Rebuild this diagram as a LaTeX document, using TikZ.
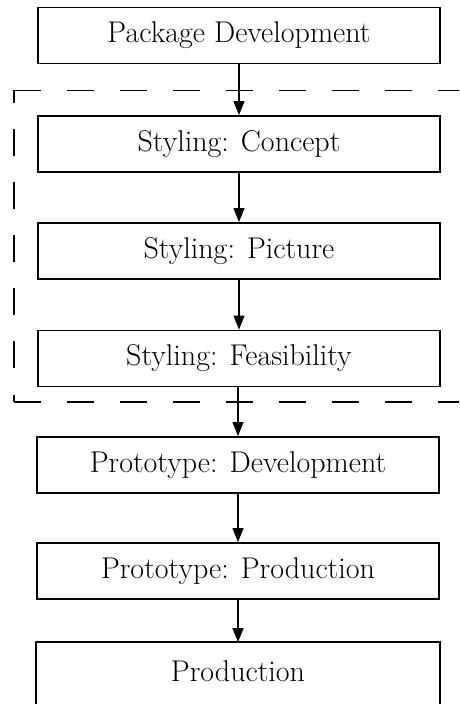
\documentclass[tikz,border=0pt]{standalone}
\usetikzlibrary{arrows.meta}
\begin{document}
\begin{tikzpicture}[x=0.5pt,y=-0.5pt,
  stagebox/.style={draw,line width=0.85pt,minimum width=201pt,minimum height=28pt,
    inner sep=0pt,font=\fontsize{15pt}{18pt}\selectfont},
  flow/.style={line width=0.85pt,-{Triangle[length=7pt,width=5.4pt]}},
  groupline/.style={line width=0.85pt,dash pattern=on 13.5pt off 13pt}]
\useasboundingbox (0,0) rectangle (459,704);
\clip (0,0) rectangle (459,704);
% stages of the process
\node[stagebox] (pkg)  at (239,35.5)  {Package Development};
\node[stagebox] (con)  at (239,144)   {Styling: Concept};
\node[stagebox] (pic)  at (239,251)   {Styling: Picture};
\node[stagebox] (fea)  at (239,358.5) {Styling: Feasibility};
\node[stagebox] (pdev) at (238,465)   {Prototype: Development};
\node[stagebox] (pprod) at (238,571)  {Prototype: Production};
\node[stagebox,draw=none] (prod) at (238,671) {Production};
% the last box runs on past the lower edge
\draw[line width=0.85pt] (prod.north west) rectangle ([yshift=-10pt]prod.south east);
% dashed frame around the styling stages (open to the right)
\coordinate (tl) at (14,90.5);
\coordinate (bl) at (14,402);
\coordinate (tr) at (470,90.5);
\coordinate (br) at (470,402);
\draw[groupline] (tl) -- (tr);
\draw[groupline] (bl) -- (br);
\draw[groupline,dash phase=7pt] (tl) -- (bl);
% connectors
\draw[flow] (pkg) -- (con);
\draw[flow] (con) -- (pic);
\draw[flow] (pic) -- (fea);
\draw[flow] (fea.south -| pdev) -- (pdev);
\draw[flow] (pdev) -- (pprod);
\draw[flow] (pprod) -- (prod);
\end{tikzpicture}
\end{document}
